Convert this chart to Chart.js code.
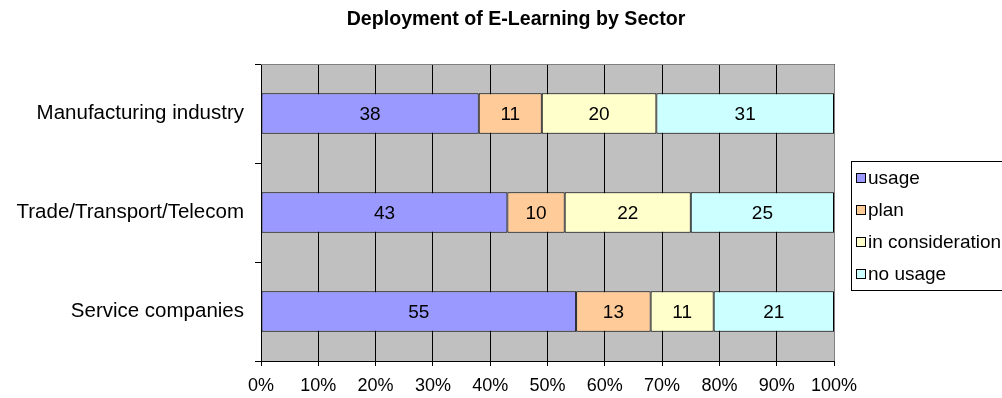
<!DOCTYPE html>
<html>
<head>
<meta charset="utf-8">
<title>Deployment of E-Learning by Sector</title>
<script src="https://cdn.jsdelivr.net/npm/chart.js@4"></script>
<style>
  html, body { margin: 0; padding: 0; background: #fff; }
  #wrap { width: 1002px; height: 398px; position: relative; }
</style>
</head>
<body>
<div id="wrap"><canvas id="elearningChart" width="1002" height="398"></canvas></div>
<script>
// Sectors and answers (percent of companies)
const sectors = ['Manufacturing industry', 'Trade/Transport/Telecom', 'Service companies'];
const usage = [38, 43, 55];
const plan = [11, 10, 13];
const inConsideration = [20, 22, 11];
const noUsage = [31, 25, 21];
const seriesLabels = ['usage', 'plan', 'in consideration', 'no usage'];
const seriesColors = ['#9999FF', '#FFCC99', '#FFFFCC', '#CCFFFF'];
const tickLabels = ['0%', '10%', '20%', '30%', '40%', '50%', '60%', '70%', '80%', '90%', '100%'];
const chartTitle = 'Deployment of E-Learning by Sector';

const FONT = '"Liberation Sans", Arial, sans-serif';

// Grey plot background and title
const plotBackground = {
    id: 'plotBackground',
    beforeDraw(chart) {
        const { ctx, chartArea: a } = chart;
        ctx.save();
        ctx.fillStyle = '#C0C0C0';
        ctx.fillRect(a.left, a.top, a.right - a.left, a.bottom - a.top);
        ctx.fillStyle = '#000';
        ctx.font = 'bold 19.6px ' + FONT;
        ctx.textAlign = 'center';
        ctx.textBaseline = 'middle';
        ctx.fillText(chartTitle, 516, 20);
        ctx.restore();
    },
    beforeDatasetsDraw(chart) {
        // top and right edge of the plot frame
        const { ctx, chartArea: a } = chart;
        ctx.save();
        ctx.strokeStyle = '#808080';
        ctx.lineWidth = 1;
        ctx.beginPath();
        ctx.moveTo(a.left, a.top + 0.5);
        ctx.lineTo(a.right + 0.5, a.top + 0.5);
        ctx.lineTo(a.right + 0.5, a.bottom);
        ctx.stroke();
        ctx.restore();
    }
};

// Value labels in the middle of each segment
const segmentLabels = {
    id: 'segmentLabels',
    afterDatasetsDraw(chart) {
        const { ctx } = chart;
        ctx.save();
        ctx.font = '19px ' + FONT;
        ctx.fillStyle = '#000';
        ctx.textAlign = 'center';
        ctx.textBaseline = 'middle';
        chart.data.datasets.forEach((ds, i) => {
            chart.getDatasetMeta(i).data.forEach((bar, j) => {
                const p = bar.getProps(['x', 'y', 'base'], true);
                ctx.fillText(String(ds.data[j]), (p.x + p.base) / 2, p.y + 1);
            });
        });
        ctx.restore();
    }
};

// Boxed legend on the right
const boxLegend = {
    id: 'boxLegend',
    afterDraw(chart) {
        const { ctx } = chart;
        ctx.save();
        ctx.strokeStyle = '#000';
        ctx.lineWidth = 1;
        ctx.fillStyle = '#fff';
        ctx.fillRect(851, 161, 160, 130);
        ctx.strokeRect(851.5, 161.5, 160, 129);
        ctx.font = '19px ' + FONT;
        ctx.textAlign = 'left';
        ctx.textBaseline = 'middle';
        chart.data.datasets.forEach((ds, i) => {
            const y = 178 + i * 32;
            ctx.fillStyle = ds.backgroundColor;
            ctx.fillRect(856, y - 5, 10, 10);
            ctx.strokeRect(856.5, y - 4.5, 9, 9);
            ctx.fillStyle = '#000';
            ctx.fillText(ds.label, 868, y + 1);
        });
        ctx.restore();
    }
};

const seriesData = [usage, plan, inConsideration, noUsage];

new Chart(document.getElementById('elearningChart'), {
    type: 'bar',
    data: {
        labels: sectors,
        datasets: seriesData.map((values, i) => ({
            label: seriesLabels[i],
            data: values,
            backgroundColor: seriesColors[i],
            borderColor: '#000',
            borderWidth: 1,
            borderSkipped: false,
            barPercentage: 1,
            categoryPercentage: 0.41
        }))
    },
    options: {
        indexAxis: 'y',
        responsive: false,
        animation: false,
        devicePixelRatio: 1,
        layout: { padding: { left: 0, right: 168, top: 64, bottom: 0 } },
        plugins: {
            legend: { display: false },
            tooltip: { enabled: false },
            title: { display: false }
        },
        scales: {
            x: {
                stacked: true,
                min: 0,
                max: 100,
                afterFit(scale) { scale.height = 37; },
                afterBuildTicks(scale) {
                    scale.ticks = tickLabels.map((t, i) => ({ value: i * 10 }));
                },
                ticks: {
                    color: '#000',
                    font: { family: FONT, size: 18 },
                    padding: 9,
                    maxRotation: 0,
                    autoSkip: false,
                    callback: (v, i) => tickLabels[i]
                },
                grid: { color: '#000', lineWidth: 1, tickLength: 5, drawTicks: true },
                border: { color: '#000', width: 1 }
            },
            y: {
                stacked: true,
                afterFit(scale) { scale.width = 261; },
                ticks: {
                    color: '#000',
                    font: { family: FONT, size: 20.5 },
                    padding: 11
                },
                grid: { drawOnChartArea: false, color: '#000', tickLength: 6, offset: true },
                border: { color: '#000', width: 1 }
            }
        }
    },
    plugins: [plotBackground, segmentLabels, boxLegend]
});
</script>
</body>
</html>
